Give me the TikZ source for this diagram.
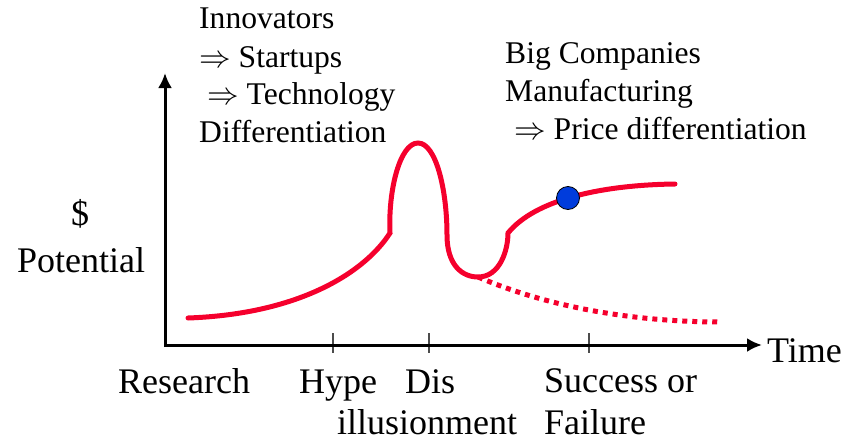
\RequirePackage{fix-cm}
\documentclass[tikz,border=0pt]{standalone}
\usepackage{fontspec}
\setmainfont{Liberation Serif}
\usepackage{tikz}
\usetikzlibrary{arrows.meta,calc}
\definecolor{curvered}{RGB}{245,0,45}
\definecolor{dotblue}{RGB}{0,60,220}

\begin{document}
\begin{tikzpicture}[x=1pt,y=-1pt]

    \tikzset{TX/.style={anchor=base west,inner sep=0mm,font=\fontsize{31.6}{38}\selectfont}}
    \tikzset{LB/.style={anchor=base west,inner sep=0mm,font=\fontsize{36}{42}\selectfont}}
    \tikzset{AX/.style={draw=black,line width=3pt,-{Latex[length=15pt,width=14pt]}}}
    \tikzset{TK/.style={draw=black!70,line width=1.5pt}}
    \tikzset{CV/.style={draw=curvered,line width=5pt,line cap=round}}
    \tikzset{DT/.style={draw=curvered,line width=5pt,dash pattern=on 5pt off 5pt}}
    \tikzset{DOT/.style={circle,draw=black,thick,fill=dotblue,inner sep=0mm,minimum size=23pt}}

    \useasboundingbox (0,0) rectangle (849,442);

    \coordinate (o) at (165,345);
    \coordinate (xe) at (762,345);
    \coordinate (ye) at (165,73);
    \coordinate (t1) at (333,345);
    \coordinate (t2) at (429,345);
    \coordinate (t3) at (589,345);

    \coordinate (s) at (188,318);
    	\coordinate (k1) at (390,233);
    		\coordinate (pk) at (418,143);
    		\coordinate (mn) at (478,277);
    			\coordinate (k2) at (508,233);
    			\coordinate (e) at (675,184);
    			\coordinate (d) at (722,322);

    \node (inno) [TX] at (199,28) {Innovators};
    \node (start) [TX] at (199,67) {$\Rightarrow$ Startups};
    \node (tech) [TX] at (207,104) {$\Rightarrow$ Technology};
    \node (diff) [TX] at (199,142) {Differentiation};

    \node (big) [TX] at (505,63) {Big Companies};
    \node (manu) [TX] at (505,101) {Manufacturing};
    \node (price) [TX] at (514,139) {$\Rightarrow$ Price differentiation};

    \node (dollar) [LB,anchor=base] at (80,225) {\$};
    \node (pot) [LB,anchor=base] at (81,272) {Potential};
    \node (time) [LB] at (767,362) {Time};

    \node (res) [LB] at (118,393) {Research};
    \node (hype) [LB] at (299,393) {Hype};
    \node (dis) [LB] at (405,393) {Dis};
    \node (ill) [LB] at (337,434) {illusionment};
    \node (succ) [LB] at (544,392) {Success or};
    \node (fail) [LB] at (544,434) {Failure};

    \draw[TK] ($(t1)+(0,-12)$) -- ($(t1)+(0,8)$);
    \draw[TK] ($(t2)+(0,-12)$) -- ($(t2)+(0,8)$);
    \draw[TK] ($(t3)+(0,-12)$) -- ($(t3)+(0,8)$);
    \draw[AX] ($(o)+(0,2)$) -- (ye);
    \draw[AX] (o) -- (xe);

    \draw[DT] (mn) .. controls (560,312) and (650,322) .. (d);
    \draw[CV] (s) .. controls (300,314) and (365,272) .. (k1)
        .. controls (388,190) and (400,143) .. (pk)
        .. controls (436,143) and (447,190) .. (447,235)
        .. controls (447,265) and (462,277) .. (mn)
        .. controls (500,277) and (508,250) .. (k2)
        .. controls (535,200) and (600,185) .. (e);

    \node (dot) [DOT] at (568,198) {};
\end{tikzpicture}
\end{document}
